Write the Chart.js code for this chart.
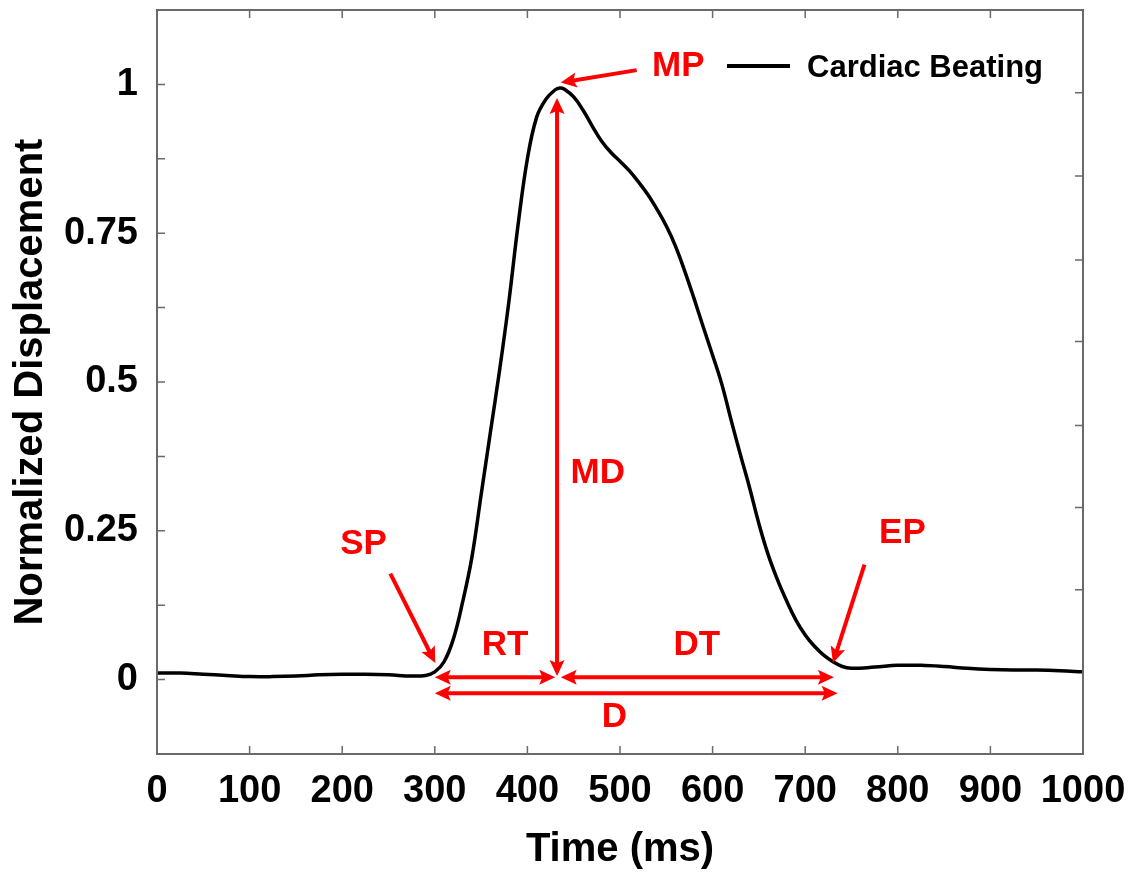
<!DOCTYPE html>
<html>
<head>
<meta charset="utf-8">
<script src="https://cdn.jsdelivr.net/npm/chart.js@4.4.0/dist/chart.umd.min.js"></script>
<style>
  html, body { margin: 0; padding: 0; background: #fff; }
</style>
</head>
<body>
<canvas id="myChart" width="1143" height="878"></canvas>
<script>
// values
const timeMs = [0, 25, 50, 75, 100, 125, 150, 175, 200, 225, 250, 275, 290,
  300, 310, 320, 330, 340, 350, 360, 370, 380, 390, 400, 410, 420, 430, 435, 440, 450, 460, 470, 480, 490,
  500, 510, 520, 530, 540, 550, 560, 570, 580, 590, 600, 610, 620, 630, 640, 650, 660, 670, 680, 690,
  700, 710, 720, 730, 740, 750, 775, 800, 825, 850, 875, 900, 925, 950, 975, 1000];
const displacement = [0.011, 0.011, 0.009, 0.007, 0.005, 0.005, 0.006, 0.008, 0.009, 0.009, 0.008, 0.006, 0.007,
  0.013, 0.03, 0.068, 0.13, 0.205, 0.31, 0.415, 0.52, 0.635, 0.765, 0.875, 0.945, 0.975, 0.991, 0.994, 0.992, 0.979, 0.957, 0.93, 0.905, 0.886,
  0.871, 0.855, 0.836, 0.815, 0.79, 0.762, 0.728, 0.686, 0.64, 0.592, 0.545, 0.496, 0.436, 0.378, 0.322, 0.262, 0.21, 0.168, 0.132, 0.1,
  0.075, 0.056, 0.041, 0.03, 0.022, 0.019, 0.021, 0.024, 0.024, 0.022, 0.019, 0.017, 0.016, 0.016, 0.015, 0.013];

const xTickValues = [0, 100, 200, 300, 400, 500, 600, 700, 800, 900, 1000];
const yLabelValues = [0, 0.25, 0.5, 0.75, 1];
const rightTickValues = [0.986, 0.846, 0.705, 0.568, 0.427, 0.289, 0.151];

// annotation marks, in data units (time, displacement)
const doubleArrows = [
  { from: [300, 0.004], to: [430, 0.004] },   // RT
  { from: [436, 0.004], to: [731, 0.004] },   // DT
  { from: [300, -0.023], to: [735, -0.023] }, // D
  { from: [432, 0.006], to: [432, 0.977] }    // MD
];
const singleArrows = [
  { from: [518, 1.024], to: [436, 1.003] },   // MP
  { from: [252, 0.178], to: [300.5, 0.028] }, // SP
  { from: [764, 0.193], to: [730, 0.028] }    // EP
];
const noteLabels = [
  { text: 'MP', at: [563, 1.031] },
  { text: 'SP', at: [223, 0.228] },
  { text: 'EP', at: [805, 0.245] },
  { text: 'MD', at: [476, 0.347] },
  { text: 'RT', at: [376, 0.058] },
  { text: 'DT', at: [583, 0.058] },
  { text: 'D', at: [494, -0.064] }
];

const FONT = '"Liberation Sans", Arial, sans-serif';
const RED = '#ff0000';
const AXIS_GREY = '#6a6a6a';

function arrowHead(ctx, x, y, ang) {
  const len = 16, half = 7.5;
  const c = Math.cos(ang), s = Math.sin(ang);
  ctx.beginPath();
  ctx.moveTo(x, y);
  ctx.lineTo(x - len * c + half * s, y - len * s - half * c);
  ctx.lineTo(x - len * c * 0.8, y - len * s * 0.8);
  ctx.lineTo(x - len * c - half * s, y - len * s + half * c);
  ctx.closePath();
  ctx.fill();
}

function drawArrow(ctx, x1, y1, x2, y2, both) {
  const ang = Math.atan2(y2 - y1, x2 - x1);
  const c = Math.cos(ang), s = Math.sin(ang);
  const cut = 10;
  ctx.beginPath();
  ctx.moveTo(both ? x1 + c * cut : x1, both ? y1 + s * cut : y1);
  ctx.lineTo(x2 - c * cut, y2 - s * cut);
  ctx.stroke();
  arrowHead(ctx, x2, y2, ang);
  if (both) arrowHead(ctx, x1, y1, ang + Math.PI);
}

const frameAndNotes = {
  id: 'frameAndNotes',
  afterDatasetsDraw(chart) {
    const { ctx, chartArea: a, scales: { x, y } } = chart;
    ctx.save();

    // box
    ctx.strokeStyle = AXIS_GREY;
    ctx.lineWidth = 2;
    ctx.strokeRect(a.left, a.top, a.right - a.left, a.bottom - a.top);

    // inward ticks
    const tl = 8;
    ctx.lineWidth = 1.5;
    ctx.beginPath();
    x.ticks.forEach(t => {
      if (t.value <= x.min || t.value >= x.max) return;
      const px = x.getPixelForValue(t.value);
      ctx.moveTo(px, a.bottom); ctx.lineTo(px, a.bottom - tl);
      ctx.moveTo(px, a.top); ctx.lineTo(px, a.top + tl);
    });
    y.ticks.forEach(t => {
      if (t.value <= y.min + 1e-9 || t.value >= y.max - 1e-9) return;
      const py = y.getPixelForValue(t.value);
      ctx.moveTo(a.left, py); ctx.lineTo(a.left + tl, py);
    });
    rightTickValues.forEach(v => {
      const py = y.getPixelForValue(v);
      ctx.moveTo(a.right, py); ctx.lineTo(a.right - tl, py);
    });
    ctx.stroke();

    // red arrows
    ctx.strokeStyle = RED;
    ctx.fillStyle = RED;
    ctx.lineWidth = 4;
    doubleArrows.forEach(d => drawArrow(ctx,
      x.getPixelForValue(d.from[0]), y.getPixelForValue(d.from[1]),
      x.getPixelForValue(d.to[0]), y.getPixelForValue(d.to[1]), true));
    singleArrows.forEach(d => drawArrow(ctx,
      x.getPixelForValue(d.from[0]), y.getPixelForValue(d.from[1]),
      x.getPixelForValue(d.to[0]), y.getPixelForValue(d.to[1]), false));

    // red labels
    ctx.font = 'bold 35px ' + FONT;
    ctx.textAlign = 'center';
    ctx.textBaseline = 'middle';
    noteLabels.forEach(l => {
      ctx.fillText(l.text, x.getPixelForValue(l.at[0]), y.getPixelForValue(l.at[1]));
    });

    // legend inside the plot, top right
    const ds = chart.data.datasets[0];
    ctx.strokeStyle = ds.borderColor;
    ctx.lineWidth = 4;
    ctx.beginPath();
    ctx.moveTo(a.right - 356, a.top + 56);
    ctx.lineTo(a.right - 293, a.top + 56);
    ctx.stroke();
    ctx.fillStyle = '#000';
    ctx.font = 'bold 31px ' + FONT;
    ctx.textAlign = 'left';
    ctx.textBaseline = 'alphabetic';
    ctx.fillText(ds.label, a.right - 276, a.top + 67);

    ctx.restore();
  }
};

const ctx = document.getElementById('myChart');

new Chart(ctx, {
  type: 'line',
  plugins: [frameAndNotes],
  data: {
    datasets: [{
      label: 'Cardiac Beating',
      data: timeMs.map((t, i) => ({ x: t, y: displacement[i] })),
      borderColor: '#000',
      borderWidth: 3.5,
      pointRadius: 0,
      tension: 0.4,
      fill: false
    }]
  },
  options: {
    responsive: false,
    animation: false,
    layout: { padding: { top: 10, right: 60, left: 0, bottom: 0 } },
    plugins: {
      legend: { display: false },
      tooltip: { enabled: false }
    },
    scales: {
      x: {
        type: 'linear',
        min: 0,
        max: 1000,
        afterBuildTicks: s => { s.ticks = xTickValues.map(v => ({ value: v })); },
        ticks: {
          autoSkip: false,
          maxRotation: 0,
          padding: 15,
          color: '#000',
          font: { family: FONT, size: 38, weight: 'bold' },
          callback: v => String(v)
        },
        grid: { display: false, drawTicks: false },
        border: { display: false },
        title: {
          display: true,
          text: 'Time (ms)',
          color: '#000',
          font: { family: FONT, size: 40, weight: 'bold' },
          padding: { top: 0, bottom: 4 }
        },
        afterFit: s => { s.height = 124; s.paddingLeft = 0; s.paddingRight = 0; }
      },
      y: {
        min: -0.125,
        max: 1.125,
        ticks: {
          stepSize: 0.125,
          padding: 19,
          color: '#000',
          font: { family: FONT, size: 38, weight: 'bold' },
          callback: v => yLabelValues.some(l => Math.abs(l - v) < 1e-6) ? String(+v.toFixed(2)) : ''
        },
        grid: { display: false, drawTicks: false },
        border: { display: false },
        title: {
          display: true,
          text: 'Normalized Displacement',
          color: '#000',
          font: { family: FONT, size: 40, weight: 'bold' },
          padding: { top: 7, bottom: 0 }
        },
        afterFit: s => { s.width = 157; s.paddingTop = 0; s.paddingBottom = 0; }
      }
    }
  }
});
</script>
</body>
</html>
